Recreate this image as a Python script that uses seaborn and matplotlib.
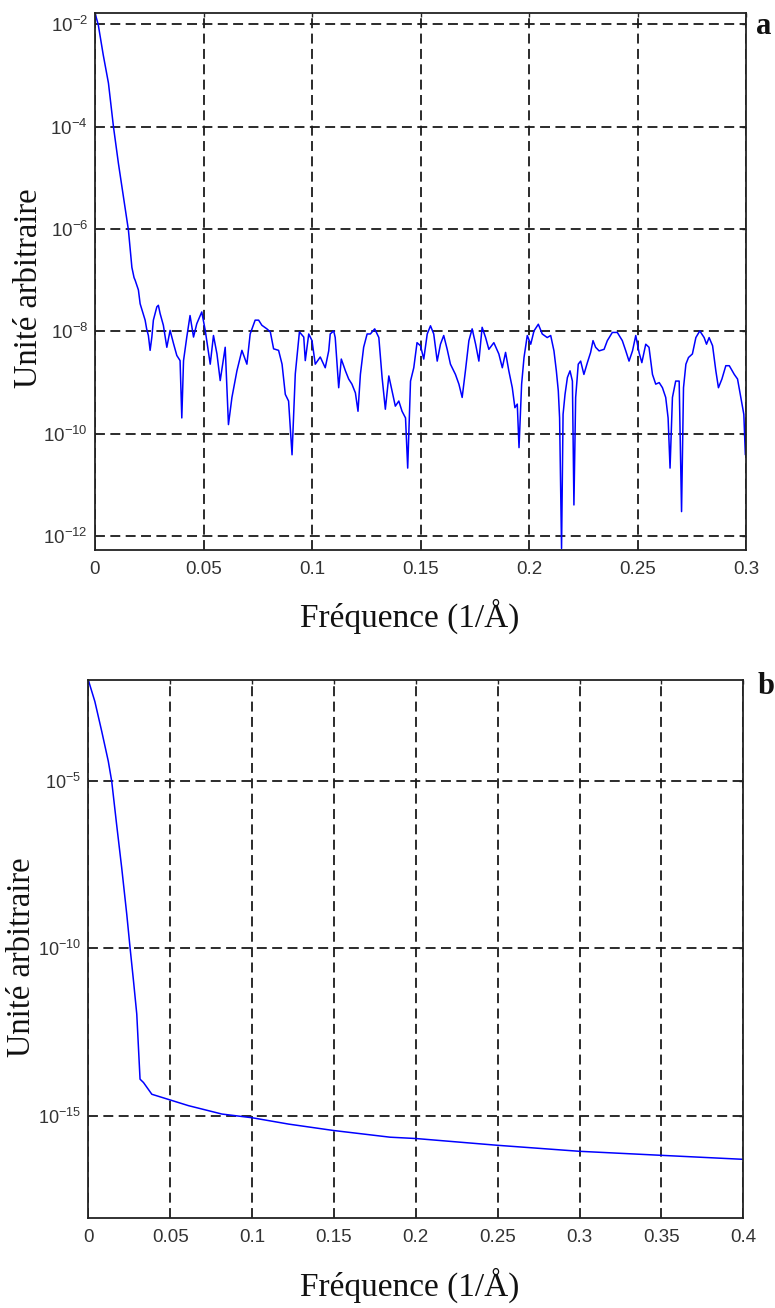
import numpy as np
import pandas as pd
import matplotlib
matplotlib.use("Agg")
import matplotlib.pyplot as plt
import seaborn as sns

# ---------------- data ----------------
# Panel a : frequency (1/Å) and log10 of the spectrum (arbitrary units)
freq_a = [0.0000, 0.0015, 0.0038, 0.0062, 0.0085, 0.0108, 0.0131, 0.0154, 0.0170, 0.0180,
          0.0185, 0.0200, 0.0208, 0.0231, 0.0238, 0.0246, 0.0254, 0.0262, 0.0269, 0.0285,
          0.0292, 0.0300, 0.0315, 0.0331, 0.0346, 0.0362, 0.0377, 0.0392, 0.0400, 0.0408,
          0.0423, 0.0438, 0.0454, 0.0469, 0.0492, 0.0508, 0.0531, 0.0546, 0.0562, 0.0577,
          0.0600, 0.0615, 0.0631, 0.0654, 0.0677, 0.0700, 0.0715, 0.0738, 0.0754, 0.0769,
          0.0792, 0.0808, 0.0823, 0.0846, 0.0862, 0.0877, 0.0892, 0.0908, 0.0923, 0.0942,
          0.0962, 0.0969, 0.0985, 0.1000, 0.1015, 0.1038, 0.1061, 0.1077, 0.1084, 0.1100,
          0.1107, 0.1123, 0.1135, 0.1154, 0.1169, 0.1184, 0.1200, 0.1212, 0.1223, 0.1238,
          0.1254, 0.1269, 0.1289, 0.1308, 0.1323, 0.1338, 0.1354, 0.1369, 0.1384, 0.1400,
          0.1415, 0.1431, 0.1441, 0.1454, 0.1469, 0.1484, 0.1500, 0.1515, 0.1531, 0.1546,
          0.1561, 0.1577, 0.1592, 0.1607, 0.1623, 0.1638, 0.1661, 0.1677, 0.1692, 0.1707,
          0.1723, 0.1738, 0.1754, 0.1769, 0.1784, 0.1800, 0.1815, 0.1838, 0.1861, 0.1877,
          0.1892, 0.1907, 0.1923, 0.1935, 0.1946, 0.1954, 0.1966, 0.1977, 0.1992, 0.2008,
          0.2023, 0.2043, 0.2061, 0.2084, 0.2100, 0.2115, 0.2126, 0.2135, 0.2141, 0.2150,
          0.2157, 0.2166, 0.2177, 0.2189, 0.2200, 0.2207, 0.2215, 0.2227, 0.2238, 0.2253,
          0.2269, 0.2284, 0.2295, 0.2307, 0.2323, 0.2346, 0.2361, 0.2384, 0.2407, 0.2430,
          0.2446, 0.2461, 0.2477, 0.2492, 0.2507, 0.2520, 0.2538, 0.2553, 0.2569, 0.2584,
          0.2600, 0.2615, 0.2630, 0.2641, 0.2650, 0.2661, 0.2676, 0.2692, 0.2703, 0.2712,
          0.2723, 0.2735, 0.2753, 0.2769, 0.2787, 0.2807, 0.2818, 0.2830, 0.2846, 0.2861,
          0.2873, 0.2889, 0.2907, 0.2923, 0.2946, 0.2961, 0.2976, 0.2990, 0.2997, 0.3000]
log_spec_a = [-1.78, -2.01, -2.60, -3.15, -4.00, -4.72, -5.37, -6.02, -6.75, -6.95,
              -7.00, -7.19, -7.46, -7.78, -7.95, -8.08, -8.37, -8.11, -7.78, -7.52,
              -7.49, -7.65, -7.88, -8.31, -7.98, -8.24, -8.47, -8.57, -9.69, -8.57,
              -8.11, -7.69, -8.11, -7.85, -7.62, -7.98, -8.64, -8.08, -8.44, -8.96,
              -8.31, -9.82, -9.29, -8.77, -8.37, -8.64, -8.05, -7.78, -7.78, -7.88,
              -7.95, -8.01, -8.34, -8.37, -8.64, -9.23, -9.36, -10.41, -8.83, -8.01,
              -8.11, -8.57, -8.05, -8.18, -8.64, -8.50, -8.71, -8.38, -8.05, -7.99,
              -8.12, -9.10, -8.54, -8.77, -8.93, -9.03, -9.20, -9.56, -8.84, -8.31,
              -8.05, -8.05, -7.95, -8.12, -8.90, -9.52, -8.87, -9.16, -9.46, -9.36,
              -9.56, -9.69, -10.67, -8.97, -8.71, -8.22, -8.28, -8.54, -8.05, -7.89,
              -8.05, -8.58, -8.25, -8.08, -8.35, -8.64, -8.84, -9.03, -9.29, -8.77,
              -8.18, -7.95, -8.25, -8.58, -7.92, -8.12, -8.35, -8.22, -8.44, -8.71,
              -8.41, -8.77, -9.10, -9.49, -9.42, -10.27, -9.03, -8.51, -8.08, -8.25,
              -7.99, -7.86, -8.05, -8.12, -8.08, -8.38, -8.77, -9.16, -9.69, -12.24,
              -9.62, -9.23, -8.90, -8.77, -8.97, -11.39, -9.29, -8.64, -8.58, -8.84,
              -8.61, -8.41, -8.18, -8.31, -8.38, -8.35, -8.18, -8.02, -8.02, -8.18,
              -8.38, -8.58, -8.38, -8.08, -8.41, -8.61, -8.25, -8.31, -8.84, -9.03,
              -9.00, -9.10, -9.29, -9.69, -10.67, -9.29, -8.97, -8.97, -11.52, -9.10,
              -8.64, -8.51, -8.44, -8.12, -7.99, -8.12, -8.25, -8.12, -8.28, -8.77,
              -9.10, -8.93, -8.67, -8.67, -8.84, -8.93, -9.29, -9.62, -10.41, -9.82]

# Panel b
freq_b = [0.000, 0.004, 0.0082, 0.0122, 0.0143, 0.0173, 0.0204, 0.0235, 0.0255, 0.0276,
          0.0296, 0.0316, 0.0337, 0.0388, 0.0500, 0.0612, 0.0816, 0.1000, 0.1224, 0.1497,
          0.1843, 0.2002, 0.2495, 0.2998, 0.3497, 0.4000]
log_spec_b = [-2.00, -2.64, -3.53, -4.42, -5.02, -6.31, -7.60, -8.99, -9.98, -10.97,
              -11.96, -13.90, -14.00, -14.35, -14.52, -14.69, -14.94, -15.05, -15.24, -15.43,
              -15.63, -15.67, -15.87, -16.05, -16.17, -16.29]

xticks_a = [0, 0.05, 0.1, 0.15, 0.2, 0.25, 0.3]
xticklabels_a = ["0", "0.05", "0.1", "0.15", "0.2", "0.25", "0.3"]
yticks_a_exp = [-12, -10, -8, -6, -4, -2]
xticks_b = [0, 0.05, 0.1, 0.15, 0.2, 0.25, 0.3, 0.35, 0.4]
xticklabels_b = ["0", "0.05", "0.1", "0.15", "0.2", "0.25", "0.3", "0.35", "0.4"]
yticks_b_exp = [-15, -10, -5]

xlabel_txt = "Fréquence (1/Å)"
ylabel_txt = "Unité arbitraire"

df_a = pd.DataFrame({"f": freq_a, "s": np.power(10.0, log_spec_a)})
df_b = pd.DataFrame({"f": freq_b, "s": np.power(10.0, log_spec_b)})

# ---------------- style ----------------
sns.set_theme(style="white")
plt.rcParams["font.family"] = ["Liberation Sans", "DejaVu Sans"]
plt.rcParams["mathtext.fontset"] = "custom"
plt.rcParams["mathtext.rm"] = "Liberation Sans"
plt.rcParams["mathtext.it"] = "Liberation Sans:italic"
plt.rcParams["mathtext.bf"] = "Liberation Sans:bold"

W, H = 775, 1308
fig = plt.figure(figsize=(W / 100, H / 100), dpi=100)
ax_a = fig.add_axes([95 / W, 1 - 550 / H, (746 - 95) / W, (550 - 13) / H])
ax_b = fig.add_axes([88.3 / W, 1 - 1217.7 / H, (743.3 - 88.3) / W, (1217.7 - 680) / H])

tick_color = "#333333"
serif = ["Liberation Serif", "DejaVu Serif"]


def style_axes(ax, xticks, xticklabels, yexp, xlim, ylim, xlab_pos, ylab_pos, ysize):
    ax.set_yscale("log")
    ax.set_xlim(*xlim)
    ax.set_ylim(*ylim)
    ax.set_xticks(xticks)
    ax.set_xticklabels(xticklabels)
    ax.set_yticks([10.0 ** e for e in yexp])
    ax.set_yticklabels([r"$\mathregular{10^{%d}}$" % e for e in yexp])
    ax.yaxis.set_minor_locator(matplotlib.ticker.NullLocator())
    ax.grid(True, which="major", color="#1a1a1a", linestyle=(0, (5.5, 3.0)), linewidth=1.3)
    ax.tick_params(axis="both", which="major", direction="in", length=3, width=1.0,
                   top=True, right=True, labelcolor=tick_color, color="#222222")
    ax.tick_params(axis="x", pad=8, labelsize=13.5)
    ax.tick_params(axis="y", pad=5, labelsize=ysize)
    for sp in ax.spines.values():
        sp.set_color("#222222")
        sp.set_linewidth(1.3)
        sp.set_visible(True)
    ax.set_xlabel(xlabel_txt, fontsize=24, family=serif, color="#111111", va="top")
    ax.set_ylabel(ylabel_txt, fontsize=23.5, family=serif, color="#111111", va="center")
    ax.xaxis.set_label_coords(*xlab_pos)
    ax.yaxis.set_label_coords(*ylab_pos)


sns.lineplot(data=df_a, x="f", y="s", ax=ax_a, color="blue", linewidth=1.1,
             sort=False, estimator=None)
style_axes(ax_a, xticks_a, xticklabels_a, yticks_a_exp, (0, 0.3),
           (10 ** -12.27, 10 ** -1.78),
           ((410 - 95) / 651, -(599 - 550) / 537), ((29 - 95) / 651, 0.488), 13.5)

sns.lineplot(data=df_b, x="f", y="s", ax=ax_b, color="blue", linewidth=1.1,
             sort=False, estimator=None)
style_axes(ax_b, xticks_b, xticklabels_b, yticks_b_exp, (0, 0.4),
           (10 ** -18.03, 10 ** -2.0),
           ((410 - 88.3) / 655, -(1268 - 1217.7) / 537.7), ((22 - 88.3) / 655, 0.485), 13)

fig.text(764 / W, 1 - 26 / H, "a", fontsize=22, fontweight="bold", family=serif,
         ha="center", va="center", color="#111111")
fig.text(766 / W, 1 - 686 / H, "b", fontsize=22, fontweight="bold", family=serif,
         ha="center", va="center", color="#111111")

fig.savefig("out.png", dpi=100)
